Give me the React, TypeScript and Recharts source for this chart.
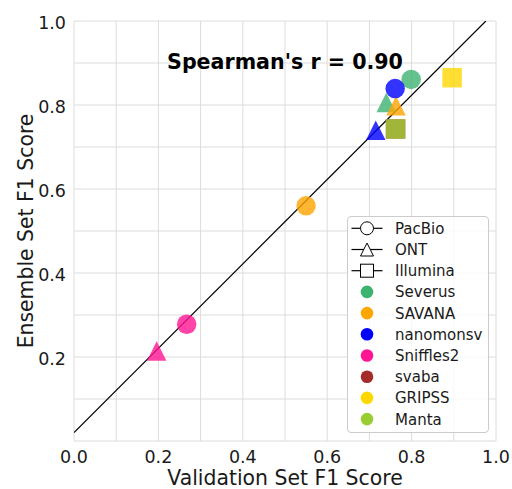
import React from 'react';
import {
  ScatterChart,
  Scatter,
  XAxis,
  YAxis,
  CartesianGrid,
  ReferenceLine,
  ReferenceDot,
  Legend,
} from 'recharts';

// Callers and their colours
const tools = ['Severus', 'SAVANA', 'nanomonsv', 'Sniffles2', 'svaba', 'GRIPSS', 'Manta'];
const toolColors = ['#3cb371', '#ffa500', '#0000ff', '#ff1493', '#a52a2a', '#ffd700', '#9acd32'];
const platforms = ['PacBio', 'ONT', 'Illumina'];

// F1 scores per caller: validation set vs ensemble set
const severusScores = [
  { platform: 'PacBio', validation: 0.799, ensemble: 0.861 },
  { platform: 'ONT', validation: 0.74, ensemble: 0.806 },
];
const savanaScores = [
  { platform: 'PacBio', validation: 0.55, ensemble: 0.56 },
  { platform: 'ONT', validation: 0.763, ensemble: 0.798 },
];
const nanomonsvScores = [
  { platform: 'ONT', validation: 0.715, ensemble: 0.74 },
  { platform: 'PacBio', validation: 0.761, ensemble: 0.839 },
];
const sniffles2Scores = [
  { platform: 'PacBio', validation: 0.267, ensemble: 0.278 },
  { platform: 'ONT', validation: 0.196, ensemble: 0.214 },
];
const svabaScores = [{ platform: 'Illumina', validation: 0.762, ensemble: 0.743 }];
const gripssScores = [{ platform: 'Illumina', validation: 0.896, ensemble: 0.865 }];
const mantaScores = [{ platform: 'Illumina', validation: 0.762, ensemble: 0.743 }];

const scoresByTool = [
  severusScores,
  savanaScores,
  nanomonsvScores,
  sniffles2Scores,
  svabaScores,
  gripssScores,
  mantaScores,
];

// Least-squares fit, clipped at the top of the plot
const fitLine = [
  { validation: 0.0, ensemble: 0.02 },
  { validation: 0.976, ensemble: 1.0 },
];
const spearmanLabel = "Spearman's r = 0.90";
const labelAnchor = { validation: 0.5, ensemble: 0.9 };

const gridTicks = [0, 0.1, 0.2, 0.3, 0.4, 0.5, 0.6, 0.7, 0.8, 0.9, 1.0];

const FONT = '"DejaVu Sans", sans-serif';
const TEXT = '#1a1a1a';
const MARKER = 19.5;

function Marker({ platform, cx, cy, size, fill, stroke, strokeWidth, opacity }: any) {
  const h = size / 2;
  if (platform === 'ONT') {
    const pts = `${cx},${cy - h} ${cx - h},${cy + h} ${cx + h},${cy + h}`;
    return <polygon points={pts} fill={fill} fillOpacity={opacity} stroke={stroke} strokeWidth={strokeWidth} />;
  }
  if (platform === 'Illumina') {
    return (
      <rect x={cx - h} y={cy - h} width={size} height={size} fill={fill} fillOpacity={opacity} stroke={stroke} strokeWidth={strokeWidth} />
    );
  }
  return <circle cx={cx} cy={cy} r={h} fill={fill} fillOpacity={opacity} stroke={stroke} strokeWidth={strokeWidth} />;
}

const makeShape = (color: string) => (props: any) => (
  <Marker platform={props.payload.platform} cx={props.cx} cy={props.cy} size={MARKER} fill={color} opacity={0.8} stroke="none" />
);

const XTick = (props: any) => {
  const { x, y, payload } = props;
  const v = payload.value;
  if (Math.round(v * 10) % 2 !== 0) return <g />;
  return (
    <text x={x} y={y + 22} textAnchor="middle" fontSize={17.5} fontFamily={FONT} fill={TEXT}>
      {v.toFixed(1)}
    </text>
  );
};

const YTick = (props: any) => {
  const { x, y, payload } = props;
  const v = payload.value;
  if (Math.round(v * 10) % 2 !== 0 || v === 0) return <g />;
  return (
    <text x={x - 8} y={y + 8} textAnchor="end" fontSize={17.5} fontFamily={FONT} fill={TEXT}>
      {v.toFixed(1)}
    </text>
  );
};

const LegendBox = () => {
  const rowH = 21.2;
  const firstY = 12.3;
  const mx = 20;
  const tx = 48;
  return (
    <div
      style={{
        width: 142,
        height: 217,
        boxSizing: 'border-box',
        border: '1px solid #cccccc',
        borderRadius: 4,
        background: 'rgba(255,255,255,0.8)',
      }}
    >
      <svg width={140} height={215} style={{ display: 'block', marginLeft: -1, marginTop: -1, overflow: 'visible' }}>
        {platforms.map((p, i) => {
          const cy = firstY + i * rowH;
          return (
            <g key={p}>
              <line x1={mx - 15.5} x2={mx + 15.5} y1={cy} y2={cy} stroke="#000" strokeWidth={1.2} />
              <Marker platform={p} cx={mx} cy={cy} size={13} fill="#fff" opacity={1} stroke="#000" strokeWidth={1} />
              <text x={tx} y={cy + 5.5} fontSize={15} fontFamily={FONT} fill={TEXT}>
                {p}
              </text>
            </g>
          );
        })}
        {tools.map((t, i) => {
          const cy = firstY + (i + platforms.length) * rowH;
          return (
            <g key={t}>
              <circle cx={mx} cy={cy} r={6.3} fill={toolColors[i]} />
              <text x={tx} y={cy + 5.5} fontSize={15} fontFamily={FONT} fill={TEXT}>
                {t}
              </text>
            </g>
          );
        })}
      </svg>
    </div>
  );
};

export default function App() {
  return (
    <div style={{ position: 'absolute', left: 0, top: 0, width: 512, height: 489, background: '#fff' }}>
      <ScatterChart width={512} height={489} margin={{ top: 21, right: 16, bottom: 0, left: 0 }}>
        <CartesianGrid stroke="#dcdcdc" strokeWidth={1} />
        <XAxis
          type="number"
          dataKey="validation"
          domain={[0, 1]}
          ticks={gridTicks}
          interval={0}
          height={48}
          tickLine={false}
          axisLine={false}
          tickSize={0}
          tickMargin={0}
          tick={XTick}
          allowDataOverflow
          label={{
            content: (p: any) => {
              const vb = p.viewBox || { x: 74, y: 441, width: 422 };
              return (
                <text x={vb.x + vb.width / 2} y={485} textAnchor="middle" fontSize={20.4} fontFamily={FONT} fill={TEXT}>
                  Validation Set F1 Score
                </text>
              );
            },
          }}
        />
        <YAxis
          type="number"
          dataKey="ensemble"
          domain={[0, 1]}
          ticks={gridTicks}
          interval={0}
          width={74}
          tickLine={false}
          axisLine={false}
          tickSize={0}
          tickMargin={0}
          tick={YTick}
          allowDataOverflow
          label={{
            content: (p: any) => {
              const vb = p.viewBox || { x: 0, y: 21, height: 420 };
              const cy = vb.y + vb.height / 2;
              return (
                <text
                  transform={`translate(33, ${cy}) rotate(-90)`}
                  textAnchor="middle"
                  fontSize={20.4}
                  fontFamily={FONT}
                  fill={TEXT}
                >
                  Ensemble Set F1 Score
                </text>
              );
            },
          }}
        />
        {tools.map((t, i) => (
          <Scatter
            key={t}
            name={t}
            data={scoresByTool[i]}
            fill={toolColors[i]}
            shape={makeShape(toolColors[i])}
            isAnimationActive={false}
          />
        ))}
        <ReferenceLine
          segment={fitLine.map((d) => ({ x: d.validation, y: d.ensemble }))}
          stroke="#000"
          strokeWidth={1.2}
          ifOverflow="hidden"
        />
        <ReferenceDot
          x={labelAnchor.validation}
          y={labelAnchor.ensemble}
          r={0}
          fill="none"
          stroke="none"
          label={{
            content: (p: any) => {
              const vb = p.viewBox || { x: 0, y: 0, width: 0, height: 0 };
              const cx = vb.x + (vb.width || 0) / 2;
              const cy = vb.y + (vb.height || 0) / 2;
              return (
                <text x={cx} y={cy + 5.5} textAnchor="middle" fontSize={20.6} fontWeight="bold" fontFamily={FONT} fill="#000">
                  {spearmanLabel}
                </text>
              );
            },
          }}
        />
        <Legend
          layout="vertical"
          align="center"
          verticalAlign="middle"
          content={LegendBox}
          wrapperStyle={{ position: 'absolute', left: 347, top: 216, width: 142, height: 217 }}
        />
      </ScatterChart>
    </div>
  );
}
